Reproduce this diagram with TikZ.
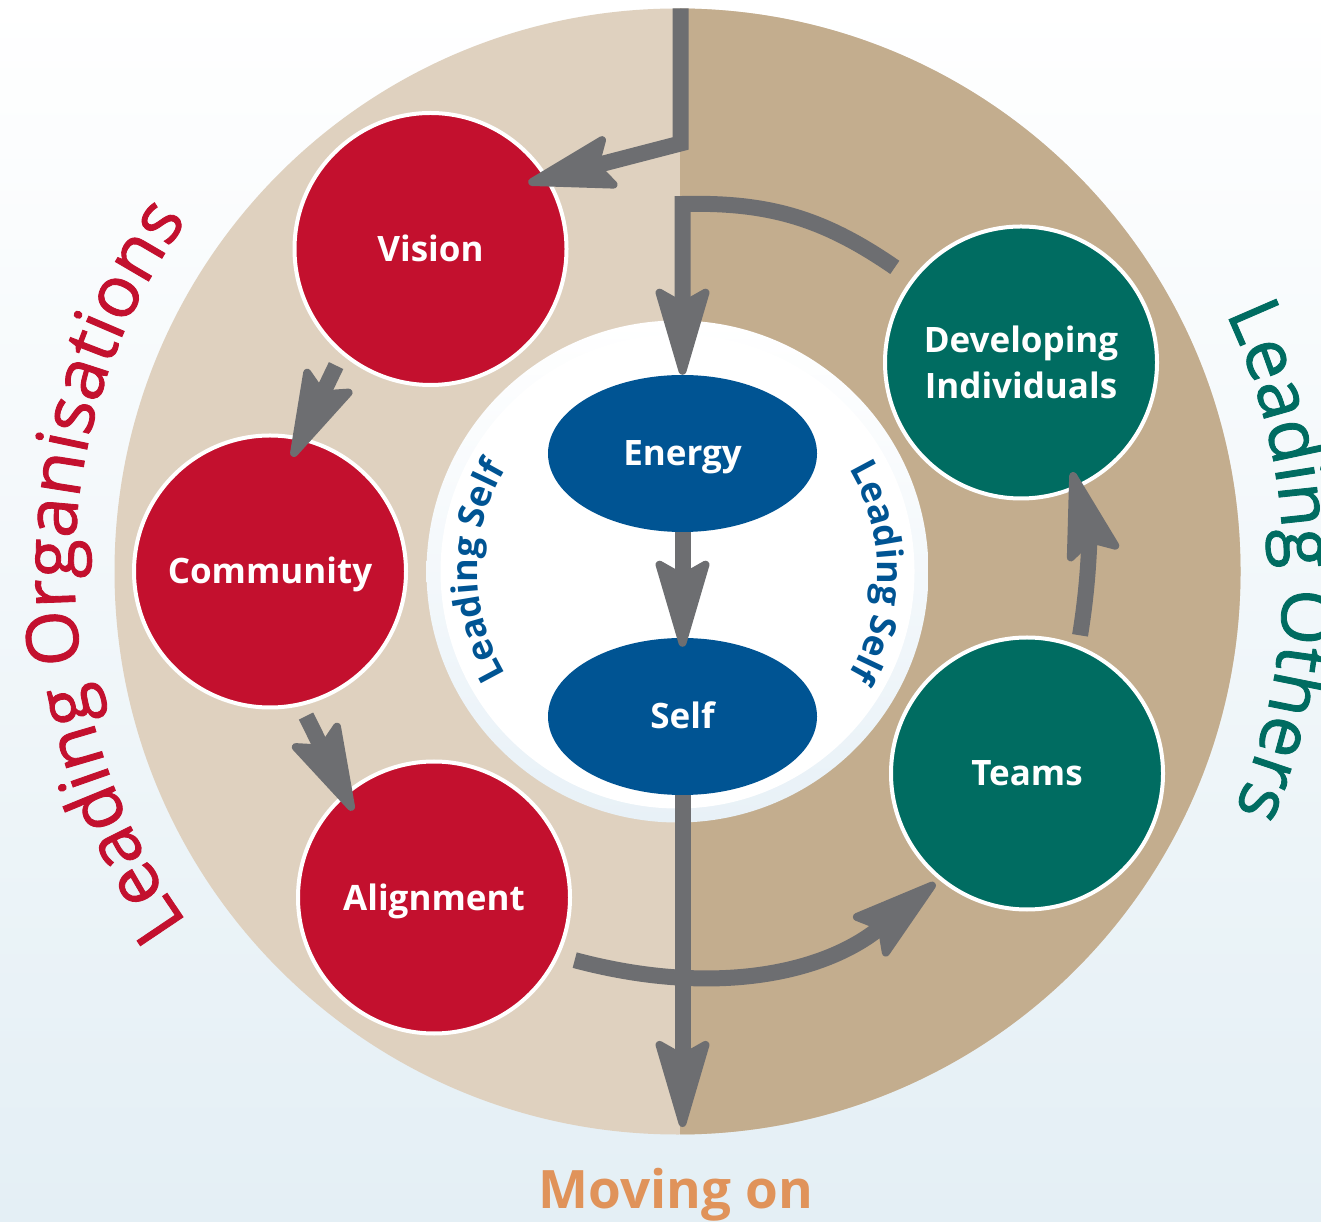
\documentclass[tikz,border=0pt]{standalone}
\usepackage{fontspec}
\setmainfont{Open Sans}
\newfontfamily\ringfam[FakeBold=1.2]{Open Sans}
\usetikzlibrary{calc,arrows.meta,shapes.geometric,decorations.text}

\definecolor{orgred}{RGB}{195,16,46}
\definecolor{othgreen}{RGB}{0,108,97}
\definecolor{selfblue}{RGB}{0,84,147}
\definecolor{flowgray}{RGB}{109,110,113}
\definecolor{moveorange}{RGB}{224,147,90}
\definecolor{lefttan}{RGB}{223,209,191}
\definecolor{righttan}{RGB}{195,173,142}
\definecolor{bgblue}{RGB}{228,239,245}
\definecolor{rimblue}{RGB}{232,241,247}

\newcommand\nodefont{\bfseries\fontsize{35}{46.5}\selectfont}
\newcommand\ringfont{\ringfam\fontsize{72}{80}\selectfont}
\newcommand\selffont{\bfseries\fontsize{36}{40}\selectfont}

\tikzset{
  capline/.style={text height=25pt,text depth=0pt},
  orgnode/.style={circle,fill=orgred,draw=white,line width=4pt,minimum size=272pt,
    inner sep=0pt,text=white,font=\nodefont},
  othnode/.style={orgnode,fill=othgreen},
  selfnode/.style={ellipse,fill=selfblue,minimum width=269pt,minimum height=157pt,
    inner sep=0pt,text=white,font=\nodefont,capline},
  flow/.style={draw=flowgray,line width=16pt,line join=miter,
    -{Stealth[length=100pt,width=58pt,inset=16pt,round,line width=8pt]}},
  ringtext/.style={decorate,decoration={text along path,text align=center,text={#1}}}
}

\begin{document}
\begin{tikzpicture}[x=1pt,y=1pt]
      \useasboundingbox (0,0) rectangle (1321,1221);
      \clip (0,0) rectangle (1321,1221);
      \shade[top color=white,bottom color=bgblue] (0,0) rectangle (1321,1221);
      \coordinate (C) at (677.5,649.5);
      % the two halves of the big disc
      \fill[lefttan] (C) circle[radius=563];
      \begin{scope}
        \clip (680,0) rectangle (1321,1221);
        \fill[righttan] (C) circle[radius=563];
      \end{scope}
      \shade[top color=white,bottom color=rimblue] (C) circle[radius=251];
      \fill[white] (C) circle[radius=237];

      \node[orgnode,capline] (Vi) at (430.5,972) {Vision};
      \node[orgnode,capline] (Co) at (270,649.5) {Community};
      \node[orgnode,capline] (Al) at (434,323.5) {Alignment};
      \node[othnode,align=center] (DI) at (1021,858.5) {Developing\\Individuals};
      \node[othnode,capline] (Te) at (1027,447.5) {Teams};
      \node[selfnode] (En) at (682.5,767.5) {Energy};
      \node[selfnode] (Se) at (682.5,504.5) {Self};
      \node[font=\bfseries\fontsize{53}{60}\selectfont,text=moveorange,anchor=base] (mo) at (676,13) {Moving on};

      \coordinate (top) at (680.5,1212.5);
      \coordinate (bend) at (680.5,1077.5);
      \coordinate (corner) at (682.5,1017);
      \coordinate (out) at (682.5,94);
      \draw[flow] (top)--(bend)--($(Vi)+(34:118)$);
      \draw[flow] ($(Vi)+(231:150)$)--($(Co)+(79:117)$);
      \draw[flow] ($(Co)+(-76:149)$)--($(Al)+(133:119)$);
      \draw[flow] ($(Al)+(-24:154)$) to[bend right=27] ($(Te)+(230:143)$);
      \draw[flow] ($(Te)+(69:148)$) to[bend right=12] ($(DI)+(-65:121)$);
      \draw[flow] ($(DI)+(143:158)$) to[bend right=18] (corner)--(En.north);
      \draw[flow] (En.south)--($(Se.north)+(0,-9)$);
      \draw[flow] (Se.south)--(out);

      \path[ringtext={|\ringfont\color{orgred}|Leading Organisations}]
        ($(C)+(225:603)$) arc[start angle=225,end angle=135,radius=603];
      \path[ringtext={|\ringfont\color{othgreen}|Leading Others}]
        ($(C)+(46:606)$) arc[start angle=46,end angle=-44,radius=606];
      \path[ringtext={|\selffont\color{selfblue}|Leading Self}]
        ($(C)+(230:200)$) arc[start angle=230,end angle=130,radius=200];
      \path[ringtext={|\selffont\color{selfblue}|Leading Self}]
        ($(C)+(50:200)$) arc[start angle=50,end angle=-50,radius=200];
\end{tikzpicture}
\end{document}
